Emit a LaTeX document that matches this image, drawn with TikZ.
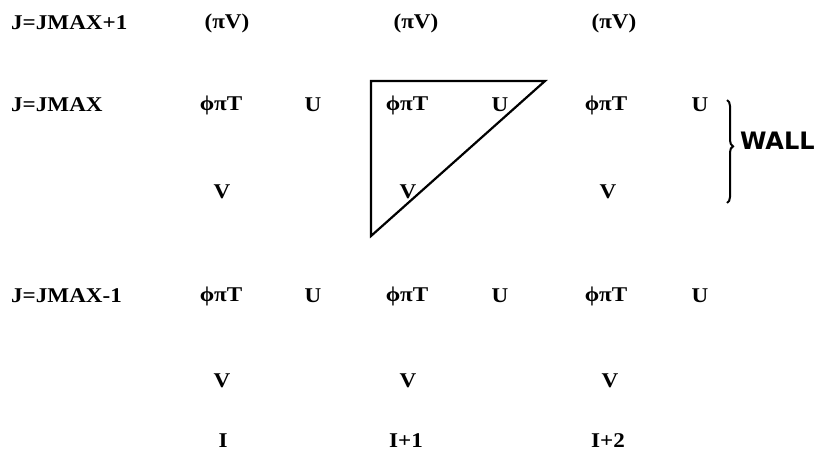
\documentclass[tikz,border=0pt]{standalone}
\usepackage{fontspec}
\setmainfont[FakeStretch=1.1]{Liberation Serif}
\setsansfont{DejaVu Sans}
\usetikzlibrary{decorations.pathreplacing}

\begin{document}
\begin{tikzpicture}[x=1pt, y=-1pt,
    grid/.style={font=\bfseries\fontsize{21}{22}\selectfont, inner sep=0pt},
    rowlabel/.style={grid, anchor=west},
    cellline/.style={line width=2.2pt, line join=miter},
  ]
  \useasboundingbox (0,0) rectangle (819,455);

  % row labels
  \node[rowlabel] (jtop) at (11,23) {J=JMAX+1};
  \node[rowlabel] (jmax) at (11,105) {J=JMAX};
  \node[rowlabel] (jlow) at (11,296) {J=JMAX-1};

  % J=JMAX+1
  \node[grid] (pv1) at (227,23) {(πV)};
  \node[grid] (pv2) at (416,23) {(πV)};
  \node[grid] (pv3) at (614,23) {(πV)};

  % J=JMAX
  \node[grid] (ta1) at (221,105) {ϕπT};
  \node[grid] (ua1) at (313,105) {U};
  \node[grid] (ta2) at (407,105) {ϕπT};
  \node[grid] (ua2) at (500,105) {U};
  \node[grid] (ta3) at (606,105) {ϕπT};
  \node[grid] (ua3) at (700,105) {U};

  \node[grid] (va1) at (222,192) {V};
  \node[grid] (va2) at (408,192) {V};
  \node[grid] (va3) at (608,192) {V};

  % J=JMAX-1
  \node[grid] (tb1) at (221,296) {ϕπT};
  \node[grid] (ub1) at (313,296) {U};
  \node[grid] (tb2) at (407,296) {ϕπT};
  \node[grid] (ub2) at (500,296) {U};
  \node[grid] (tb3) at (606,296) {ϕπT};
  \node[grid] (ub3) at (700,296) {U};

  \node[grid] (vb1) at (222,381) {V};
  \node[grid] (vb2) at (408,381) {V};
  \node[grid] (vb3) at (610,381) {V};

  % I index
  \node[grid] (i1) at (223,441) {I};
  \node[grid] (i2) at (406,441) {I+1};
  \node[grid] (i3) at (608,441) {I+2};

  % control cell
  \coordinate (cnw) at (371,81);
  \coordinate (cne) at (545,81);
  \coordinate (csw) at (371,236);
  \draw[cellline] (csw) -- (cnw) -- (cne) -- cycle;

  % wall
  \coordinate (wtop) at (727,100);
  \coordinate (wbot) at (727,203);
  \draw[line width=2pt, decorate, decoration={brace, amplitude=6pt, aspect=0.45}]
    (wtop) -- (wbot) node[pos=0.4, right=12pt, font=\sffamily\bfseries\fontsize{24}{26}\selectfont, inner sep=0pt] (wall) {WALL};
\end{tikzpicture}
\end{document}
